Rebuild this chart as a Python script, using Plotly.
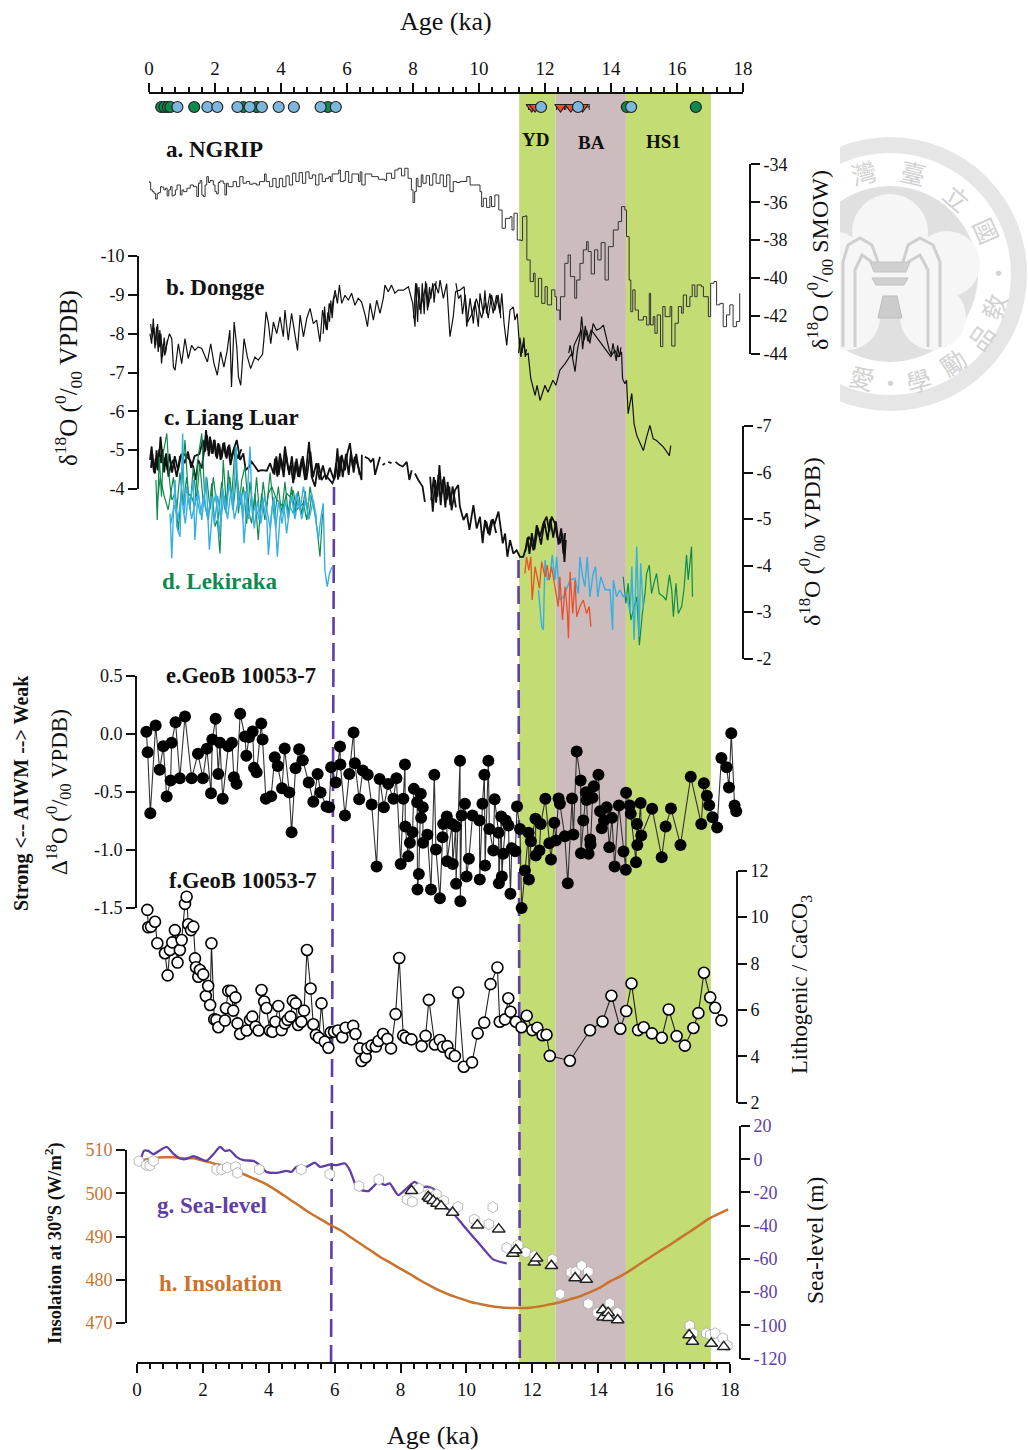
import plotly.graph_objects as go

W, H = 1028, 1450
SERIF = "Liberation Serif"
fx = lambda p: p / W
fy = lambda p: 1 - p / H

# ---------- data ----------
ngrip_age = [-0.05,0.0,.05,.1,.15,.2,.25,.3,.35,.4,.45,.5,.55,.6,.65,.7,.75,.8,.85,.9,.95,1.0,1.05,1.15,1.25,1.35,1.45,1.5,1.55,1.6,1.65,1.7,1.75,1.8,1.85,1.95,2.0,2.05,2.1,2.15,2.25,2.3,2.35,2.4,2.55,2.65,2.75,2.85,2.95,3.05,3.15,3.25,3.35,3.5,3.55,3.65,3.75,3.85,3.95,4.05,4.15,4.25,4.35,4.45,4.55,4.65,4.75,4.85,4.95,5.05,5.15,5.25,5.35,5.45,5.5,5.55,5.75,5.8,5.9,5.95,6.05,6.15,6.35,6.4,6.45,6.55,6.75,6.95,7.15,7.2,7.35,7.45,7.55,7.65,7.75,7.85,7.95,8.0,8.05,8.1,8.15,8.25,8.3,8.4,8.5,8.6,8.7,8.82,8.92,9.02,9.12,9.22,9.32,9.42,9.63,9.73,9.88,10.03,10.08,10.13,10.23,10.33,10.38,10.48,10.6,10.7,10.8,10.94,11.0,11.06,11.16,11.27,11.32,11.4,11.45,11.55,11.65,11.7,11.8,11.9,12.0,12.07,12.2,12.3,12.35,12.45,12.47,12.6,12.7,12.77,12.9,12.96,13.06,13.16,13.26,13.31,13.4,13.5,13.6,13.7,13.82,13.92,14.07,14.22,14.32,14.42,14.47,14.55,14.6,14.66,14.73,14.83,14.98,15.08,15.16,15.2,15.28,15.33,15.4,15.5,15.57,15.64,15.79,15.84,15.94,16.04,16.14,16.19,16.29,16.39,16.46,16.54,16.61,16.74,16.8,16.95,17.02,17.12,17.2,17.3,17.4,17.5,17.6,17.7,17.8,17.9]
ngrip_d18o = [-34.86,-34.95,-35.35,-35.44,-35.53,-35.83,-35.53,-35.49,-35.18,-35.21,-35.35,-35.26,-35.67,-35.35,-35.18,-35.67,-35.62,-35.35,-35.09,-35.09,-35.62,-35.35,-35.44,-35.26,-35.09,-35.18,-35.7,-35.0,-34.86,-35.62,-35.7,-35.09,-34.65,-34.96,-34.86,-35.09,-35.44,-35.56,-34.96,-34.88,-35.0,-35.62,-35.0,-35.18,-34.91,-35.18,-34.65,-35.0,-34.91,-35.05,-35.0,-35.09,-34.91,-34.51,-34.91,-35.18,-34.74,-35.21,-34.74,-35.18,-34.61,-35.09,-34.47,-34.91,-34.44,-35.0,-34.4,-34.74,-34.56,-35.09,-34.51,-34.91,-34.74,-34.65,-34.91,-34.51,-34.3,-34.91,-34.86,-34.38,-34.96,-34.51,-34.91,-34.4,-35.09,-34.51,-34.65,-34.79,-34.86,-34.47,-34.74,-34.3,-34.21,-34.61,-34.21,-34.74,-35.35,-36.02,-35.44,-34.74,-35.18,-34.56,-35.0,-34.6,-35.1,-34.5,-35.0,-34.56,-35.18,-34.56,-35.44,-34.91,-34.96,-34.91,-34.65,-35.09,-35.09,-35.44,-36.23,-35.79,-36.27,-35.7,-36.23,-35.62,-36.41,-37.37,-36.85,-36.76,-37.46,-36.58,-37.99,-38.02,-36.76,-36.72,-39.04,-40.18,-39.74,-40.98,-40.01,-41.33,-40.45,-41.41,-40.62,-40.98,-41.68,-42.21,-40.98,-39.22,-38.78,-39.92,-41.06,-40.1,-39.22,-38.51,-38.08,-38.6,-39.78,-38.51,-39.04,-38.13,-40.1,-38.34,-37.46,-37.02,-36.23,-36.41,-37.81,-40.1,-41.77,-40.62,-41.68,-42.21,-42.03,-42.47,-40.8,-42.47,-42.03,-42.91,-41.94,-43.61,-41.5,-42.03,-41.5,-43.58,-42.38,-41.5,-41.85,-40.89,-41.5,-40.98,-40.36,-40.98,-40.36,-40.45,-40.98,-42.03,-40.27,-40.18,-41.41,-41.33,-42.56,-41.94,-41.41,-42.56,-42.29,-40.8]

dongge_age = [.03,.08,.13,.18,.23,.28,.33,.38,.43,.48,.54,.62,.69,.74,.79,.89,.99,1.09,1.19,1.29,1.39,1.49,1.6,1.7,1.77,1.87,1.97,2.07,2.17,2.27,2.37,2.45,2.5,2.58,2.66,2.71,2.78,2.88,2.98,3.08,3.21,3.31,3.44,3.48,3.55,3.62,3.69,3.77,3.87,3.97,4.07,4.12,4.22,4.32,4.4,4.5,4.58,4.68,4.78,4.88,4.98,5.08,5.18,5.26,5.33,5.4,5.46,5.53,5.58,5.64,5.71,5.77,5.84,5.94,6.04,6.14,6.24,6.34,6.44,6.55,6.62,6.7,6.8,6.9,7.0,7.1,7.15,7.25,7.35,7.45,7.55,7.71,7.86,7.99,8.06,8.11,8.21,8.31,8.41,8.46,8.56,8.67,8.77,8.82,8.92,9.02,9.12,9.22,9.29,9.42,9.55,9.63,9.73,9.83,9.88,9.98,10.03,10.13,10.18,10.23,10.33,10.43,10.53,10.64,10.69,10.76,10.84,10.94,11.04,11.09,11.16,11.22,11.27,11.34,11.42,11.49,11.57,11.7,11.76,11.85,12.0,12.09,12.24,12.33,12.45,12.61,12.71,12.81,12.91,12.98,13.06,13.11,13.18,13.26,13.36,13.46,13.56,13.67,13.77,13.87,13.95,14.02,14.12,14.22,14.32,14.35,14.42,14.47,14.52,14.63,14.7,14.78,14.88,14.98,15.08,15.18,15.28,15.38,15.59,15.77,15.81]
dongge_d18o = [-8.0,-7.74,-8.39,-7.62,-8.18,-7.53,-8.09,-7.23,-7.74,-7.44,-7.74,-8.0,-7.87,-7.14,-7.06,-7.74,-7.23,-7.87,-7.36,-7.7,-7.57,-7.66,-7.62,-7.44,-7.27,-7.74,-7.23,-6.93,-7.53,-7.14,-7.57,-8.09,-6.63,-8.3,-7.66,-6.89,-6.67,-7.87,-7.4,-7.1,-7.4,-7.32,-7.47,-7.83,-8.56,-8.26,-7.74,-8.3,-8.0,-8.43,-7.92,-8.61,-7.83,-8.52,-8.09,-7.57,-8.48,-7.92,-8.39,-8.65,-8.26,-8.35,-7.79,-8.61,-8.26,-8.09,-8.78,-8.52,-8.86,-9.12,-8.78,-9.25,-8.78,-8.99,-8.86,-9.04,-8.73,-8.91,-8.82,-8.48,-8.18,-8.78,-8.35,-8.86,-8.52,-8.91,-9.25,-9.08,-9.25,-9.04,-9.12,-9.12,-9.21,-8.78,-8.18,-9.29,-8.61,-8.95,-9.29,-8.69,-9.12,-9.29,-9.04,-9.38,-8.91,-9.29,-7.92,-8.44,-9.08,-9.12,-9.21,-8.18,-8.91,-8.26,-8.82,-8.18,-9.04,-8.52,-9.12,-8.52,-9.04,-8.52,-8.99,-8.52,-9.04,-8.26,-7.7,-8.61,-8.69,-8.35,-8.52,-7.75,-7.4,-7.75,-7.45,-7.49,-6.84,-6.41,-6.67,-6.28,-6.67,-6.49,-6.8,-6.67,-7.06,-7.23,-7.36,-7.49,-7.02,-7.57,-7.92,-8.44,-7.83,-8.09,-7.75,-8.26,-8.09,-8.13,-8.22,-7.83,-7.57,-7.45,-7.57,-7.4,-7.53,-6.84,-6.71,-6.8,-5.94,-6.46,-5.68,-5.38,-5.17,-4.99,-5.34,-5.64,-5.29,-5.25,-5.08,-4.86,-5.12]
dongge_extra_age = [.05,.1,.15,.2,.26,.31,.36,.41,.46,.5,.56,None,5.28,5.32,5.37,5.42,5.47,5.51,5.55,5.6,5.66,None,8.02,8.08,8.14,8.18,8.24,8.28,8.34,8.38,8.44,8.5,8.54,8.6,8.64,8.7,None,9.3,9.38,9.45,9.5,9.58,9.66,9.78,9.92,10.08,10.2,10.28,10.38,10.48,10.58,10.66,None,11.2,11.24,11.3,11.36,11.4,11.44,None,12.72,12.76,12.84,12.88,13.1,13.14,13.22,13.3,13.4,14.0,14.06,14.16,14.2,14.26,14.3]
dongge_extra_d18o = [-8.25,-7.9,-8.15,-7.7,-8.25,-7.65,-8.0,-7.4,-7.9,-7.5,-7.85,None,-8.0,-8.7,-8.1,-8.55,-8.3,-8.85,-8.4,-8.9,-9.0,None,-8.4,-9.3,-8.3,-9.2,-8.5,-9.3,-8.5,-9.35,-8.6,-9.2,-8.9,-9.3,-8.8,-9.35,None,-9.3,-8.9,-9.0,-8.5,-9.0,-8.3,-8.5,-8.9,-8.4,-8.8,-8.4,-9.0,-8.6,-9.0,-8.4,None,-7.5,-7.9,-7.5,-7.9,-7.4,-7.6,None,-7.5,-7.7,-7.4,-7.7,-8.1,-7.6,-8.2,-7.8,-8.1,-7.4,-7.75,-7.3,-7.7,-7.4,-7.65]

liang_age = [.03,.08,.13,.18,.23,.28,.35,.43,.52,.59,.66,.74,.84,.94,1.04,1.14,1.24,1.34,1.42,1.49,1.6,1.67,1.73,1.78,1.85,1.9,1.97,2.03,2.1,2.17,2.25,2.33,2.4,2.47,2.56,2.66,2.76,2.86,2.93,3.04,3.11,3.18,3.31,3.41,3.57,3.67,3.77,3.82,3.89,3.97,4.05,4.12,4.22,4.3,4.37,4.44,4.52,4.63,4.73,4.85,4.93,5.03,5.13,5.23,5.33,5.43,5.56,5.64,5.71,5.77,5.84,5.94,6.01,6.09,6.17,6.24,6.34,6.44,6.45,None,6.54,6.65,6.72,6.8,6.85,6.92,7.0,None,7.08,7.15,None,7.25,7.35,None,7.47,7.59,7.69,7.81,7.89,7.96,None,8.06,8.16,8.29,8.36,None,8.52,8.6,8.67,8.74,8.8,8.87,8.94,9.02,9.1,9.17,9.27,9.37,9.42,9.53,9.63,9.71,9.83,9.93,10.03,10.11,10.18,10.28,10.38,10.48,10.59,10.66,10.72,10.79,10.86,10.94,11.04,11.14,11.24,11.34,11.44,11.5,11.57,11.65,11.75,11.85,11.95,12.05,12.13,12.2,12.3,12.37,12.45,12.53,12.59,12.63]
liang_d18o = [-6.27,-6.56,-6.13,-5.98,-6.48,-6.05,-6.77,-6.13,-6.41,-5.91,-6.16,-6.27,-5.91,-6.34,-6.41,-6.34,-6.27,-6.13,-5.84,-6.27,-6.09,-6.48,-6.91,-6.48,-6.77,-6.41,-6.7,-6.34,-6.63,-6.27,-6.63,-6.34,-6.56,-6.16,-6.48,-6.7,-6.27,-6.41,-6.05,-6.13,-6.23,-6.16,-6.03,-6.05,-6.04,-6.2,-5.98,-6.3,-5.91,-6.41,-6.05,-6.56,-6.05,-6.16,-5.77,-6.23,-5.91,-6.3,-5.84,-6.66,-5.91,-5.7,-6.2,-5.84,-5.95,-5.88,-5.77,-5.91,-6.52,-5.91,-6.38,-6.05,-6.41,-6.63,-6.13,-6.34,-6.13,-5.84,-6.38,None,-6.34,-6.3,-6.23,-6.3,-5.95,-6.13,-6.34,None,-6.16,-6.2,None,-6.23,-6.2,None,-6.23,-6.16,-6.13,-6.23,-5.84,-6.05,None,-5.98,-5.84,-5.7,-5.37,None,-5.91,-5.16,-5.84,-5.48,-6.16,-5.55,-5.91,-5.41,-5.7,-5.19,-5.62,-5.73,-5.27,-4.98,-5.12,-4.77,-5.3,-4.8,-5.05,-4.48,-4.98,-4.69,-4.98,-4.91,-5.16,-4.84,-4.48,-4.69,-4.19,-4.55,-4.26,-4.33,-4.19,-4.19,-4.41,-4.62,-4.55,-4.33,-4.87,-4.62,-4.91,-5.05,-4.73,-5.05,-4.91,-4.62,-4.48,-4.69,-4.08,-4.55]
liang_extra_age = [.06,.1,.15,.2,.26,.31,.37,.41,.46,.5,.56,.62,.7,.78,.88,.98,1.08,1.18,1.28,1.38,1.53,1.63,1.7,1.76,1.81,1.87,1.93,1.99,2.06,2.13,2.2,2.28,2.35,2.43,2.5,2.59,2.69,2.8,None,3.8,3.86,3.93,4.0,4.08,4.15,4.25,4.33,4.4,4.47,4.56,4.66,4.77,4.89,4.97,5.07,5.17,5.27,5.37,5.48,5.6,5.67,5.73,5.8,5.87,5.97,6.05,6.12,6.2,6.28,6.38,None,8.55,8.63,8.7,8.77,8.84,8.9,8.98,9.05,9.13,9.2,9.3,None,10.12,10.22,10.32,10.42,10.52,None,11.4,11.47,11.53,11.6,11.68,11.78,11.88,11.98,12.08,12.16,12.25,12.33,12.41,12.49,12.56,12.61]
liang_extra_d18o = [-6.1,-6.4,-6.0,-6.3,-6.05,-6.5,-6.2,-6.5,-6.0,-6.3,-6.05,-6.4,-6.0,-6.35,-6.05,-6.4,-6.2,-6.45,-6.1,-6.35,-6.4,-6.7,-6.45,-6.8,-6.35,-6.7,-6.4,-6.7,-6.3,-6.6,-6.3,-6.65,-6.3,-6.6,-6.3,-6.55,-6.3,-6.5,None,-5.95,-6.35,-5.95,-6.3,-5.9,-6.4,-5.95,-6.35,-5.85,-6.3,-5.9,-6.35,-5.85,-6.45,-5.9,-6.2,-5.85,-6.15,-5.85,-6.1,-5.85,-6.2,-5.85,-6.35,-5.9,-6.4,-5.95,-6.45,-6.0,-6.4,-5.95,None,-5.4,-5.9,-5.35,-5.95,-5.3,-5.85,-5.25,-5.8,-5.3,-5.7,-5.25,None,-4.7,-4.95,-4.65,-5.0,-4.7,None,-4.3,-4.6,-4.25,-4.7,-4.35,-4.8,-4.45,-4.95,-4.55,-5.0,-4.6,-4.95,-4.45,-4.8,-4.25,-4.7]

lek_green_age = [.21,.25,.31,.38,.43,.54,.62,.69,.79,.89,.99,1.09,1.19,1.29,1.39,1.49,1.6,1.7,1.8,1.9,2.0,2.07,2.15,2.25,2.35,2.4,2.5,2.61,2.71,2.81,2.91,3.01,3.11,3.21,3.31,3.41,3.51,3.62,3.72,3.87,3.97,4.07,4.17,4.27,4.37,4.47,4.58,4.68,4.78,4.88,4.98,5.03,5.1,5.18,5.26,None,14.37,14.45,14.52,14.6,14.68,14.78,14.86,14.95,15.03,15.08,15.16,15.23,15.3,15.38,15.46,15.59,15.67,15.77,15.84,15.89,15.97,16.04,16.14,16.21,16.29,16.34,16.44,16.47]
lek_green_d18o = [-5.84,-4.98,-6.34,-5.48,-6.41,-6.84,-5.84,-5.41,-5.55,-4.76,-5.7,-6.7,-5.55,-5.48,-5.27,-6.34,-6.84,-5.27,-4.98,-5.77,-4.84,-4.98,-4.26,-6.27,-5.2,-6.05,-5.41,-6.56,-5.12,-5.84,-6.13,-5.2,-4.91,-5.55,-4.55,-5.55,-4.98,-5.55,-5.7,-5.41,-5.34,-5.27,-5.55,-5.48,-5.62,-5.2,-5.27,-5.34,-4.98,-5.7,-5.27,-5.12,-4.76,-4.19,-5.12,None,-3.76,-3.19,-3.62,-2.83,-3.05,-3.33,-2.29,-2.97,-3.4,-3.83,-4.01,-3.4,-3.62,-3.83,-3.4,-3.33,-3.26,-3.8,-3.48,-2.9,-3.62,-2.97,-3.12,-3.48,-4.23,-3.69,-4.41,-3.33]
lek_green_extra_age = [.24,.34,.46,.58,.74,.84,.94,1.04,1.14,1.24,1.34,1.44,1.54,1.65,1.75,1.85,1.95,2.1,2.2,2.3,2.45,2.55,2.66,2.76,2.86,2.96,3.06,3.16,3.26,3.36,3.46,3.56,3.67,3.8,3.92,4.02,4.12,4.22,4.32,4.42,4.52,4.63,4.73,4.83,4.93]
lek_green_extra_d18o = [-5.3,-5.9,-5.5,-5.2,-5.9,-5.2,-6.0,-5.3,-5.9,-5.2,-6.1,-5.4,-6.2,-5.3,-5.9,-5.2,-5.9,-5.0,-5.8,-5.2,-5.9,-5.2,-6.0,-5.3,-5.7,-4.9,-5.8,-5.1,-5.9,-5.0,-5.8,-5.2,-6.0,-5.0,-5.7,-5.1,-5.8,-5.1,-5.7,-5.1,-5.6,-5.1,-5.6,-5.0,-5.5]

lek_blue_age = [.64,.69,.74,.79,.84,.94,1.02,1.07,1.14,1.24,1.34,1.39,1.49,1.6,1.73,1.83,1.93,2.03,2.13,2.23,2.33,2.43,2.54,2.64,2.71,2.81,2.88,2.96,3.06,3.13,3.24,3.34,3.44,3.57,3.62,3.72,3.79,3.89,3.97,4.09,4.17,4.27,4.37,4.47,4.58,4.68,4.78,4.93,5.03,5.13,5.2,5.28,5.33,5.4,5.47,5.54,None,11.8,11.9,11.95,12.0,12.07,12.15,12.22,12.3,12.35,12.4,12.45,12.56,12.76,12.91,13.01,13.06,13.14,13.21,13.28,13.36,13.46,13.53,13.6,13.69,13.82,13.97,14.05,14.07,14.17,14.27,14.37,14.47,14.58,14.63,14.7,14.78,14.85,14.9,14.98]
lek_blue_d18o = [-5.12,-4.16,-5.12,-5.84,-4.84,-4.62,-6.84,-5.12,-5.7,-5.27,-5.84,-4.55,-5.62,-4.98,-5.91,-4.34,-5.27,-5.55,-4.62,-5.7,-5.12,-5.77,-5.2,-6.56,-5.27,-5.55,-4.48,-5.27,-6.56,-5.12,-5.27,-4.98,-5.41,-4.98,-4.23,-5.2,-5.48,-4.19,-5.05,-5.27,-4.69,-5.27,-5.12,-5.55,-5.2,-5.7,-5.27,-5.55,-5.12,-4.55,-4.98,-5.34,-3.9,-3.55,-3.83,-3.97,None,-3.48,-2.69,-2.62,-4.12,-3.69,-3.76,-4.23,-3.69,-4.19,-3.69,-3.26,-3.33,-3.69,-3.73,-3.4,-4.19,-3.76,-3.55,-4.19,-3.33,-3.83,-3.98,-3.33,-3.76,-3.48,-3.48,-2.62,-3.69,-3.33,-3.48,-3.33,-3.4,-2.97,-3.98,-2.4,-4.41,-2.47,-4.05,-3.05]
lek_blue_extra_age = [.66,.76,.88,.98,1.1,1.19,1.29,1.44,1.55,1.66,1.78,1.88,1.98,2.08,2.18,2.28,2.38,2.48,2.59,2.76,2.84,2.92,3.02,3.1,3.19,3.29,3.39,3.5,3.67,3.76,3.84,3.93,4.03,4.13,4.22,4.32,4.42,4.52,4.63,4.73,4.85,4.98,5.08]
lek_blue_extra_d18o = [-4.9,-5.3,-5.0,-5.5,-4.9,-5.5,-5.0,-5.5,-5.1,-5.5,-5.0,-5.5,-4.9,-5.5,-5.0,-5.5,-5.0,-5.6,-5.0,-5.6,-5.0,-5.6,-5.0,-5.5,-4.8,-5.4,-4.9,-5.5,-4.8,-5.4,-4.8,-5.4,-4.9,-5.4,-5.0,-5.5,-5.0,-5.4,-5.0,-5.4,-5.0,-5.4,-5.0]

lek_red_age = [11.39,11.44,11.51,11.57,11.61,11.7,11.78,11.83,11.9,12.0,12.07,12.13,12.2,12.27,12.33,12.4,12.45,12.53,12.61,12.68,12.71,12.76,12.84,12.91,12.96,13.06,13.16,13.26,13.34,13.39]
lek_red_d18o = [-3.83,-4.19,-3.9,-4.19,-3.26,-3.98,-3.69,-3.51,-4.08,-3.76,-4.01,-3.69,-3.98,-3.69,-3.4,-3.12,-3.76,-2.83,-3.55,-2.97,-2.44,-3.87,-2.97,-3.69,-2.9,-3.12,-3.26,-2.97,-3.12,-2.69]

geob_e_age = [.283,.324,.404,.566,.688,.799,.90,1.02,1.05,1.17,1.30,1.456,1.658,1.85,2.0,2.12,2.245,2.285,2.386,2.467,2.518,2.6,2.77,2.88,2.94,3.02,3.13,3.276,3.317,3.4,3.51,3.55,3.63,3.77,3.81,3.91,4.07,4.18,4.27,4.4,4.48,4.62,4.69,4.81,4.92,5.03,5.21,5.35,5.48,5.57,5.75,5.83,5.89,6.03,6.16,6.17,6.31,6.44,6.57,6.61,6.74,6.85,7.0,7.12,7.27,7.36,7.49,7.62,7.78,7.87,8.0,8.08,8.13,8.14,8.23,8.28,8.36,8.4,8.5,8.51,8.55,8.61,8.62,8.67,8.68,8.81,8.92,9.02,9.07,9.19,9.27,9.29,9.40,9.41,9.56,9.58,9.67,9.68,9.80,9.81,9.85,9.95,10.0,10.07,10.18,10.39,10.40,10.48,10.54,10.56,10.66,10.69,10.81,10.85,10.97,10.98,11.05,11.07,11.11,11.19,11.27,11.33,11.37,11.48,11.53,11.62,11.67,11.77,11.88,11.89,11.95,12.09,12.10,12.21,12.25,12.39,12.51,12.56,12.66,12.71,12.79,12.83,12.98,13.07,13.20,13.24,13.34,13.46,13.47,13.54,13.62,13.64,13.70,13.75,13.76,13.82,13.86,14.0,14.05,14.10,14.17,14.25,14.33,14.41,14.49,14.62,14.76,14.83,14.84,14.95,14.98,15.14,15.17,15.18,15.28,15.30,15.63,15.92,16.04,16.2,16.49,16.80,17.12,17.20,17.29,17.36,17.46,17.60,17.73,17.89,17.96,18.03,18.13,18.18]
geob_e_d18o = [.019,-.157,-.683,.073,-.309,-.105,-.539,-.401,-.076,.102,-.381,.151,-.381,-.171,-.381,-.128,-.51,-.047,.131,-.344,-.076,-.559,-.105,-.076,-.372,-.43,.174,-.022,-.188,-.027,.021,-.292,-.329,.09,-.047,-.559,-.536,-.2,-.275,-.467,-.125,-.504,-.846,-.295,-.131,-.226,-.418,-.585,-.344,-.504,-.625,-.631,-.286,-.418,-.108,-.263,-.703,-.344,.013,-.252,-.562,-.315,-.352,-.608,-1.142,-.387,-.631,-.43,-.559,-.381,-1.12,-.559,-.263,-.798,-1.053,-.938,-.846,-.473,-.588,-1.341,-1.206,-.516,-.723,-.631,-.938,-.869,-1.341,-.352,-.996,-1.415,-.89,-.775,-.711,-1.096,-.775,-1.12,-.798,-1.292,-.231,-1.441,-.703,-.602,-1.229,-1.076,-.703,-.746,-1.254,-.602,-.352,-1.134,-.231,-.818,-1.005,-.562,-.852,-1.286,-.711,-1.229,-1.033,-.746,-.789,-1.378,-.984,-1.01,-.625,-.818,-1.5,-1.177,-.852,-1.254,-.924,-.731,-1.048,-1.005,-.775,-.559,-.941,-1.082,-.766,-.918,-.556,-.602,-.881,-1.286,-.556,-.867,-.151,-.401,-1.028,-.746,-.502,-.568,-1.033,-.91,-.953,-.55,-.45,-.352,-.665,-.812,-.746,-.631,-.976,-.723,-1.142,-.617,-1.013,-1.171,-.507,-.617,-.688,-1.105,-.775,-.956,-.594,-.875,-.645,-1.062,-.798,-.642,-.956,-.369,-.775,-.424,-.533,-.614,-.717,-.806,-.206,-.286,-.461,.007,-.617,-.665]

geob_f_age = [.313,.344,.425,.546,.617,.849,.93,1.0,1.07,1.15,1.23,1.3,1.355,1.456,1.506,1.557,1.64,1.71,1.76,1.79,1.86,1.91,2.01,2.09,2.16,2.22,2.26,2.345,2.41,2.47,2.67,2.7,2.77,2.86,2.92,2.99,3.05,3.13,3.33,3.43,3.5,3.6,3.69,3.78,3.86,3.93,4.03,4.11,4.2,4.29,4.39,4.49,4.57,4.66,4.73,4.82,4.89,4.99,5.07,5.16,5.27,5.35,5.43,5.52,5.6,5.7,5.81,5.88,5.98,6.1,6.23,6.33,6.56,6.63,6.76,6.82,6.94,6.99,7.12,7.25,7.33,7.47,7.6,7.71,7.85,7.96,8.08,8.16,8.33,8.64,8.76,8.86,9.04,9.19,9.29,9.42,9.52,9.65,9.75,9.92,10.17,10.34,10.54,10.73,10.94,11.01,11.17,11.27,11.34,11.5,11.67,11.83,12.0,12.15,12.31,12.43,12.53,13.14,13.75,14.13,14.4,14.67,14.85,15.01,15.21,15.38,15.63,15.93,16.14,16.38,16.63,16.89,17.04,17.21,17.4,17.55,17.74]
geob_f_ratio = [10.31,9.56,9.59,9.8,8.87,8.44,7.49,8.58,8.91,9.44,8.04,8.58,9.01,10.57,10.88,9.69,9.44,9.59,8.22,7.84,7.43,7.72,7.53,6.6,7.03,6.21,8.87,5.59,5.57,5.25,5.54,6.07,6.82,6.82,5.97,6.54,5.42,4.96,5.11,5.57,5.71,5.28,5.11,6.86,6.36,6.08,5.11,5.06,5.49,6.17,5.13,5.42,5.57,5.71,6.4,6.28,5.35,5.49,5.97,8.58,6.92,5.38,4.92,4.8,6.28,4.63,4.37,5.03,5.06,5.11,4.82,5.23,5.31,4.96,4.34,3.8,3.96,4.34,4.46,4.42,4.66,4.96,4.75,4.34,5.82,8.24,4.89,4.8,4.73,4.44,4.88,6.43,4.51,4.7,4.41,4.44,4.12,4.01,6.75,3.55,3.74,4.99,5.45,7.11,7.83,5.49,5.59,6.5,5.92,5.49,5.25,5.75,5.13,5.23,4.91,4.93,4.02,3.81,5.12,5.5,6.61,5.19,5.95,7.14,5.13,5.25,4.99,4.8,6.02,4.87,4.46,5.22,5.86,7.6,6.54,6.09,5.55]

sea_age = [.14,.21,.34,.5,.7,.9,1.1,1.3,1.46,1.71,1.91,2.11,2.32,2.52,2.67,2.82,3.02,3.23,3.53,3.73,3.93,4.24,4.54,4.69,4.84,5.15,5.4,5.55,5.85,6.06,6.31,6.46,6.66,6.81,7.02,7.17,7.32,7.52,7.67,7.93,8.18,8.43,8.63,8.84,9.04,9.09,9.29,9.6,9.9,10.2,10.51,10.81,11.22]
sea_level = [1.41,5.0,5.0,3.0,5.4,7.4,3.4,.4,0,1.8,.4,-1.0,3.0,7.4,5.0,5.4,1.4,-.6,-1.0,-3.6,-7.6,-8.2,-7.0,-7.6,-4.6,-4.6,-2.0,-4.6,-3.2,-3.6,-2.6,-6.6,-16.6,-18.6,-19.2,-16.6,-13.6,-15.6,-14.6,-21.6,-17.6,-13.6,-16.6,-16.6,-18.6,-23.6,-27.6,-32.7,-39.7,-46.7,-53.7,-60.3,-62.7]

hex_age = [.06,.29,.39,.5,2.42,2.57,2.74,2.99,3.05,3.71,4.99,5.85,6.74,7.34,8.2,8.36,8.56,8.89,9.09,9.31,9.74,10.24,10.68,10.8,11.22,11.57,11.8,12.07,12.61,12.84,13.17,13.32,13.5,13.7,13.7,13.98,14.25,14.35,14.58,16.78,16.88,17.28,17.4,17.55,17.78,17.92]
hex_level = [-1.2,-3.6,-3.8,-1.0,-6.2,-6.2,-5.0,-4.6,-8.2,-6.2,-6.2,-9.0,-16.2,-12.2,-24.2,-25.6,-17.6,-20.6,-21.2,-25.0,-28.7,-36.3,-39.1,-28.9,-53.3,-51.7,-56.1,-58.3,-60.3,-81.2,-68.1,-67.7,-64.1,-67.7,-87.0,-92.4,-92.4,-86.8,-92.4,-100.2,-104.8,-104.8,-105.8,-104.8,-107.8,-112.2]
tri_age = [8.33,8.84,8.89,8.99,9.11,9.23,9.58,10.33,10.98,11.41,11.5,12.06,12.13,12.58,13.3,13.64,14.14,14.15,14.3,14.31,14.59,16.76,16.86,17.43,17.81]
tri_level = [-19.0,-22.6,-23.6,-25.0,-26.6,-28.2,-32.1,-39.7,-42.1,-56.7,-54.7,-62.1,-59.7,-64.1,-71.5,-72.5,-90.8,-95.2,-92.4,-95.4,-96.8,-105.8,-109.8,-111,-113]

inso_age = [-.11,.19,.5,.8,1.1,1.4,1.71,2.01,2.32,2.62,2.92,3.23,3.53,3.83,4.13,4.44,4.74,5.04,5.35,5.65,5.87,6.16,6.46,6.76,7.07,7.37,7.67,7.98,8.28,8.58,8.89,9.19,9.5,9.8,10.1,10.41,10.71,11.01,11.32,11.62,11.92,12.23,12.53,12.83,13.14,13.44,13.74,14.05,14.35,14.65,14.96,15.26,15.56,15.87,16.17,16.47,16.78,17.08,17.38,17.69,17.94]
inso_wm2 = [507.15,507.68,508.07,508.3,508.3,508.07,508.07,507.53,506.91,506.3,505.53,504.45,503.45,502.44,501.13,499.59,498.05,496.51,494.97,493.66,492.66,491.5,489.96,488.42,486.87,485.33,484.02,482.64,481.33,479.94,478.63,477.47,476.47,475.7,474.93,474.39,473.93,473.62,473.46,473.46,473.54,473.85,474.31,474.78,475.47,476.16,477.09,478.17,479.55,480.71,482.1,483.64,485.1,486.64,488.03,489.57,491.11,492.66,494.2,495.35,496.28]

date_green_age = [.37,.47,.57,.65,1.37,2.86,3.27,5.42,14.48,16.57]
date_blue_age = [.86,1.77,2.07,2.68,3.05,3.42,3.93,4.39,5.2,5.66,11.88,13.0,14.61]
date_red_age = [11.6,11.7,12.47,12.78,13.14]
date_red_err = [.1,.1,.12,.15,.2]

band_edges = [11.6, 12.7, 14.84, 17.42]
band_colors = ["#c4dc74", "#cdbcbe", "#c4dc74"]
boundary_x_top = [5.98, 11.58]
boundary_x_bottom = [5.89, 11.62]
boundary_start_px = [487, 560]

age_ticks = [0, 2, 4, 6, 8, 10, 12, 14, 16, 18]
a_ticks = [-34, -36, -38, -40, -42, -44]
b_ticks = [-10, -9, -8, -7, -6, -5, -4]
c_ticks = [-7, -6, -5, -4, -3, -2]
e_ticks = [0.5, 0.0, -0.5, -1.0, -1.5]
e_labels = ["0.5", "0.0", "-0.5", "-1.0", "-1.5"]
f_ticks = [12, 10, 8, 6, 4, 2]
h_ticks = [510, 500, 490, 480, 470]
g_ticks = [20, 0, -20, -40, -60, -80, -100, -120]

BLACK = "#111111"
PURPLE = "#5f3ea6"
ORANGE = "#c9732d"
GREEN = "#0f8a4f"
BLUE = "#37afe0"
RED = "#e8502a"

fig = go.Figure()

def line(x, y, xa, ya, color=BLACK, width=1.0, shape="linear", smoothing=None):
    ln = dict(color=color, width=width, shape=shape)
    if smoothing is not None:
        ln["smoothing"] = smoothing
    fig.add_trace(go.Scatter(x=x, y=y, xaxis=xa, yaxis=ya, mode="lines", cliponaxis=False,
                             line=ln, hoverinfo="skip", showlegend=False))

line(ngrip_age, ngrip_d18o, "x2", "y", "#333333", 1.0, "hv")
line(dongge_age, dongge_d18o, "x2", "y2", BLACK, 1.2)
line(dongge_extra_age, dongge_extra_d18o, "x2", "y2", BLACK, 1.2)
line(liang_age, liang_d18o, "x2", "y3", BLACK, 1.8)
line(liang_extra_age, liang_extra_d18o, "x2", "y3", BLACK, 1.8)
line(lek_green_age, lek_green_d18o, "x2", "y3", GREEN, 1.2)
line(lek_green_extra_age, lek_green_extra_d18o, "x2", "y3", GREEN, 1.2)
line(lek_blue_age, lek_blue_d18o, "x2", "y3", BLUE, 1.4)
line(lek_blue_extra_age, lek_blue_extra_d18o, "x2", "y3", BLUE, 1.4)
line(lek_red_age, lek_red_d18o, "x2", "y3", RED, 1.3)

# dating row
def row(x, symbol, color, size, err=None):
    kw = {}
    if err is not None:
        kw["error_x"] = dict(type="data", array=err, visible=True, color="#222222", thickness=1, width=3)
    fig.add_trace(go.Scatter(x=x, y=[0.5] * len(x), xaxis="x2", yaxis="y7", mode="markers", cliponaxis=False,
                             marker=dict(symbol=symbol, color=color, size=size, line=dict(color="#222222", width=1.2)),
                             hoverinfo="skip", showlegend=False, **kw))
row(date_green_age, "circle", GREEN, 11)
row(date_red_age, "triangle-down", RED, 10, date_red_err)
row(date_blue_age, "circle", "#7db7de", 11)

fig.add_trace(go.Scatter(x=geob_e_age, y=geob_e_d18o, xaxis="x3", yaxis="y4", mode="lines+markers", cliponaxis=False,
                         line=dict(color="#333333", width=1.1), marker=dict(color="#000000", size=12),
                         hoverinfo="skip", showlegend=False))
fig.add_trace(go.Scatter(x=geob_f_age, y=geob_f_ratio, xaxis="x", yaxis="y5", mode="lines+markers", cliponaxis=False,
                         line=dict(color="#222222", width=1.1),
                         marker=dict(color="#ffffff", size=11, line=dict(color="#000000", width=1.6)),
                         hoverinfo="skip", showlegend=False))
line(inso_age, inso_wm2, "x", "y6", ORANGE, 2.5, "spline", 1.3)
line(sea_age, sea_level, "x", "y8", PURPLE, 2.3, "spline", 0.6)
fig.add_trace(go.Scatter(x=hex_age, y=hex_level, xaxis="x", yaxis="y8", mode="markers", cliponaxis=False,
                         marker=dict(symbol="hexagon", color="#ffffff", size=11, line=dict(color="#a8a8a8", width=0.8)),
                         hoverinfo="skip", showlegend=False))
fig.add_trace(go.Scatter(x=tri_age, y=tri_level, xaxis="x", yaxis="y8", mode="markers", cliponaxis=False,
                         marker=dict(symbol="triangle-up", color="#ffffff", size=11, line=dict(color="#222222", width=1.5)),
                         hoverinfo="skip", showlegend=False))

# ---------- watermark seal (decoration) ----------
shapes = []
def disc(cx, cy, r, color):
    shapes.append(dict(type="circle", xref="paper", yref="paper", layer="below",
                       x0=fx(cx - r), x1=fx(cx + r), y0=fy(cy + r), y1=fy(cy - r),
                       fillcolor=color, line=dict(width=0)))
def stroke(pts, color="#cfcfcf", width=3, fill=None):
    d = "M " + " L ".join(f"{fx(a):.4f},{fy(b):.4f}" for a, b in pts)
    if fill:
        d += " Z"
    shapes.append(dict(type="path", xref="paper", yref="paper", layer="below", path=d,
                       line=dict(color=color, width=width), fillcolor=fill))
disc(890, 274, 137, "#e6e6e6")
disc(890, 274, 121, "#ffffff")
disc(890, 274, 88, "#e0e0e0")
for c in [(890, 232, 38), (947, 264, 33), (933, 317, 33), (847, 317, 33), (833, 264, 33), (890, 278, 38)]:
    disc(c[0], c[1], c[2], "#f6f6f6")
stroke([(843, 347), (843, 262), (848, 245), (860, 238), (872, 245), (878, 262)])
stroke([(855, 347), (855, 270), (862, 255), (872, 262)])
stroke([(940, 347), (940, 262), (933, 245), (920, 238), (908, 245), (903, 262)])
stroke([(928, 347), (928, 270), (920, 255), (908, 262)])
stroke([(870, 262), (910, 262), (906, 272), (874, 272)], "#c4c4c4", 1, "#d0d0d0")
stroke([(872, 278), (908, 278), (904, 285), (876, 285)], "#c4c4c4", 1, "#d0d0d0")
stroke([(883, 296), (897, 296), (902, 318), (878, 318)], "#bdbdbd", 1, "#cccccc")
shapes.append(dict(type="rect", xref="paper", yref="paper", layer="below",
                   x0=fx(752), x1=fx(840), y0=fy(420), y1=fy(130), fillcolor="#ffffff", line=dict(width=0)))

# bands and boundaries
for i, col in enumerate(band_colors):
    shapes.append(dict(type="rect", xref="x", yref="paper", layer="below",
                       x0=band_edges[i], x1=band_edges[i + 1], y0=fy(1363), y1=fy(94),
                       fillcolor=col, line=dict(width=0)))
for xt, xb, st in zip(boundary_x_top, boundary_x_bottom, boundary_start_px):
    shapes.append(dict(type="line", xref="x", yref="paper", layer="below",
                       x0=xt, x1=xb, y0=fy(st), y1=fy(1363),
                       line=dict(color=PURPLE, width=2.6, dash="18px,8px")))

# ---------- text ----------
anns = []
def ann(text, x, y, size, color=BLACK, bold=False, angle=0, family=SERIF):
    anns.append(dict(text=f"<b>{text}</b>" if bold else text, x=fx(x), y=fy(y), xref="paper", yref="paper",
                     xanchor="center", yanchor="middle", showarrow=False, textangle=angle,
                     font=dict(family=family, size=size, color=color)))

ann("Age (ka)", 446, 22, 26)
ann("Age (ka)", 433, 1435, 26)
ann("a. NGRIP", 214, 150, 23, bold=True)
ann("b. Dongge", 215, 287, 23, bold=True)
ann("c. Liang Luar", 231, 418, 23, bold=True)
ann("d. Lekiraka", 220, 582, 23, GREEN, True)
ann("e.GeoB 10053-7", 241, 676, 22.5, bold=True)
ann("f.GeoB 10053-7", 242, 880, 22.5, bold=True)
ann("g. Sea-level", 212, 1205, 23, PURPLE, True)
ann("h. Insolation", 220, 1283, 23, ORANGE, True)
ann("YD", 535, 140, 19, bold=True)
ann("BA", 591, 142, 19, bold=True)
ann("HS1", 663, 141, 19, bold=True)
VPDB = "δ<sup>18</sup>O (<sup>0</sup>/<sub>00</sub> VPDB)"
ann(VPDB, 68, 378, 25, angle=-90)
ann("δ<sup>18</sup>O (<sup>0</sup>/<sub>00</sub> SMOW)", 820, 260, 24, angle=-90)
ann(VPDB, 812, 542, 24, angle=-90)
ann("Δ<sup>18</sup>O (<sup>0</sup>/<sub>00</sub> VPDB)", 58, 792, 23, angle=-90)
ann("Strong &lt;-- AIWM --&gt; Weak", 21, 793, 20, bold=True, angle=-90)
ann("Lithogenic / CaCO<sub>3</sub>", 801, 985, 22.5, angle=-90)
ann("Insolation at 30<sup>o</sup>S (W/m<sup>2</sup>)", 53, 1243, 18.5, bold=True, angle=-90)
ann("Sea-level (m)", 815, 1241, 23.5, angle=-90)
seal_chars = [("灣", 863, 172, -15), ("臺", 913, 172, 13), ("立", 957, 197, 41), ("國", 987, 230, 66),
              ("•", 998, 272, 0), ("敎", 993, 307, -72), ("品", 980, 337, -55), ("勵", 952, 362, -35),
              ("學", 918, 380, -15), ("•", 890, 382, 0), ("愛", 862, 377, 15)]
for ch, x, y, rot in seal_chars:
    ann(ch, x, y, 25, "#d2d2d2", False, rot, "Noto Sans CJK TC")

def yax(top, bottom, rng, pos, side, vals, labels=None, color=BLACK):
    return dict(domain=[fy(bottom), fy(top)], range=rng, anchor="free", position=fx(pos), side=side,
                tickmode="array", tickvals=vals, ticktext=labels or [str(v) for v in vals],
                ticks="outside", ticklen=9, tickwidth=2, tickcolor=BLACK, showline=True, linewidth=2, linecolor=BLACK,
                showgrid=False, zeroline=False, tickfont=dict(family=SERIF, size=18, color=color))
def xax(left, right, pos, side):
    return dict(domain=[fx(left), fx(right)], range=[0, 18], anchor="free", position=fy(pos), side=side,
                tickmode="array", tickvals=age_ticks, ticks="outside", ticklen=9, tickwidth=2, tickcolor=BLACK,
                minor=dict(dtick=0.4, tick0=0, ticks="outside", ticklen=5, tickwidth=1.5, tickcolor=BLACK, showgrid=False),
                showline=True, linewidth=2, linecolor=BLACK, showgrid=False, zeroline=False,
                tickfont=dict(family=SERIF, size=19, color=BLACK))

fig.update_layout(
    width=W, height=H, margin=dict(l=0, r=0, t=0, b=0, autoexpand=False), showlegend=False,
    paper_bgcolor="#ffffff", plot_bgcolor="rgba(0,0,0,0)", shapes=shapes, annotations=anns,
    xaxis=xax(137, 730, 1363, "bottom"),
    xaxis2=xax(149, 743, 92.7, "top"),
    xaxis3=dict(domain=[fx(137), fx(137 + 32.96 * 19)], range=[0, 19], visible=False, anchor="free", position=0),
    yaxis=yax(164.3, 354, [-44, -34], 750, "right", a_ticks),
    yaxis2=yax(256, 489, [-4, -10], 138, "left", b_ticks),
    yaxis3=yax(426, 658.7, [-2, -7], 743, "right", c_ticks),
    yaxis4=yax(676, 908, [-1.5, 0.5], 136, "left", e_ticks, e_labels),
    yaxis5=yax(870.7, 1102.7, [2, 12], 737, "right", f_ticks),
    yaxis6=yax(1150, 1323, [470, 510], 126, "left", h_ticks, color=ORANGE),
    yaxis7=dict(domain=[fy(114), fy(100)], range=[0, 1], visible=False, anchor="free", position=0),
    yaxis8=yax(1126, 1358.5, [-120, 20], 740, "right", g_ticks, color=PURPLE),
)

fig.write_html("out.html", config=dict(displayModeBar=False), post_script="document.body.style.margin='0';")
